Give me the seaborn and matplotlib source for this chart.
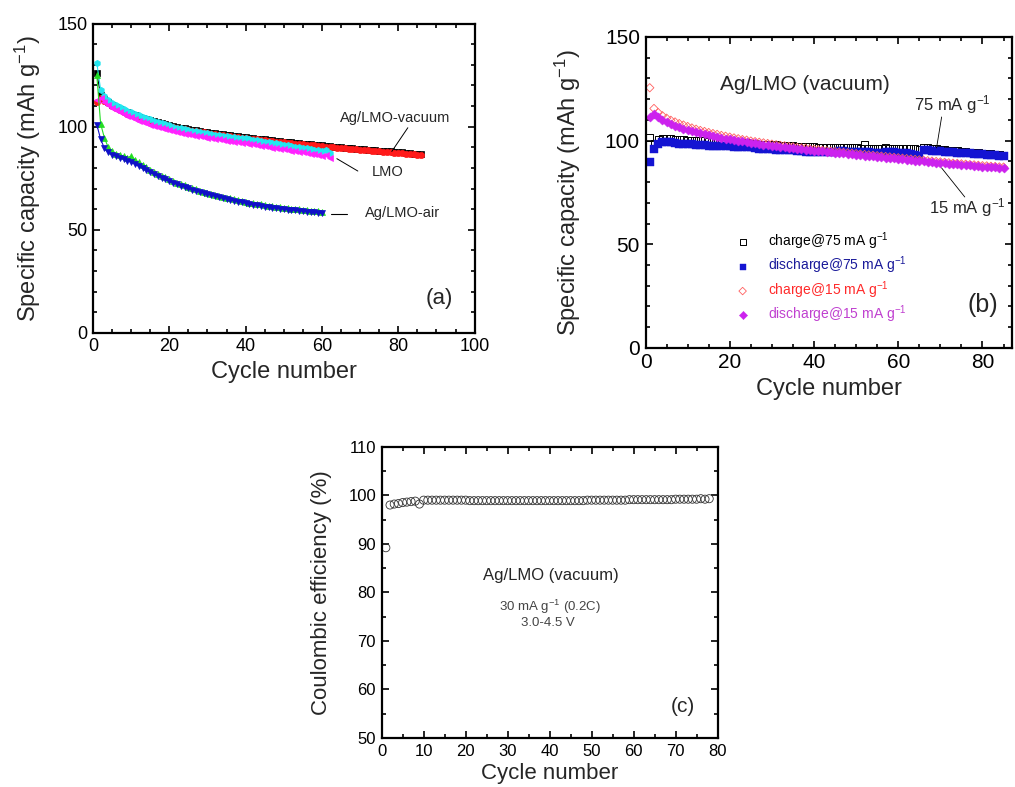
import numpy as np
import matplotlib
matplotlib.use('Agg')
import matplotlib.pyplot as plt
from matplotlib.ticker import MultipleLocator
import seaborn as sns

sns.set_style("ticks")
plt.rcParams['font.family'] = ['Liberation Sans', 'DejaVu Sans']
plt.rcParams['mathtext.fontset'] = 'custom'
plt.rcParams['mathtext.rm'] = 'Liberation Sans'
plt.rcParams['mathtext.it'] = 'Liberation Sans:italic'
plt.rcParams['axes.edgecolor'] = 'black'

# ---- panel (a): capacity of the three electrodes ----
vac_charge = [126.0, 115.5, 113.5, 112.0, 110.5, 109.5, 108.5, 107.7, 106.9, 106.2,
              105.5, 104.9, 104.3, 103.7, 103.2, 102.7, 102.2, 101.7, 101.2, 100.8,
              100.4, 100.0, 99.6, 99.2, 98.9, 98.5, 98.2, 97.9, 97.6, 97.3,
              97.0, 96.8, 96.5, 96.3, 96.0, 95.8, 95.5, 95.3, 95.1, 94.9,
              94.6, 94.4, 94.2, 94.0, 93.8, 93.6, 93.4, 93.2, 93.0, 92.8,
              92.6, 92.4, 92.2, 92.0, 91.8, 91.6, 91.5, 91.3, 91.1, 90.9,
              90.7, 90.6, 90.4, 90.2, 90.1, 89.9, 89.7, 89.6, 89.4, 89.2,
              89.1, 88.9, 88.8, 88.6, 88.4, 88.3, 88.1, 88.0, 87.8, 87.7,
              87.5, 87.3, 87.2, 87.0, 86.8, 86.6]
vac_discharge = [112.0, 114.0, 112.5, 111.3, 110.2, 109.0, 108.0, 107.2, 106.4, 105.7,
                 105.0, 104.4, 103.8, 103.2, 102.7, 102.2, 101.7, 101.2, 100.8, 100.3,
                 99.9, 99.5, 99.1, 98.8, 98.4, 98.1, 97.8, 97.5, 97.2, 96.9,
                 96.6, 96.4, 96.1, 95.9, 95.6, 95.4, 95.1, 94.9, 94.7, 94.5,
                 94.2, 94.0, 93.8, 93.6, 93.4, 93.2, 93.0, 92.8, 92.6, 92.4,
                 92.2, 92.0, 91.8, 91.6, 91.4, 91.2, 91.1, 90.9, 90.7, 90.5,
                 90.4, 90.2, 90.0, 89.9, 89.7, 89.5, 89.4, 89.2, 89.0, 88.9,
                 88.7, 88.6, 88.4, 88.2, 88.1, 87.9, 87.8, 87.6, 87.4, 87.3,
                 87.1, 87.0, 86.8, 86.6, 86.5, 86.3]
lmo_charge = [131.0, 118.0, 115.0, 113.0, 111.5, 110.4, 109.4, 108.5, 107.7, 107.0,
              106.2, 105.5, 104.8, 104.1, 103.5, 102.9, 102.3, 101.7, 101.1, 100.6,
              100.1, 99.6, 99.2, 98.8, 98.4, 98.0, 97.7, 97.4, 97.1, 96.8,
              96.5, 96.2, 95.9, 95.7, 95.4, 95.2, 94.9, 94.7, 94.5, 94.3,
              94.0, 93.7, 93.4, 93.1, 92.8, 92.5, 92.2, 91.9, 91.6, 91.3,
              91.0, 90.7, 90.4, 90.1, 89.8, 89.5, 89.2, 88.9, 88.6, 88.3,
              88.8, 87.2]
lmo_discharge = [113.0, 114.0, 112.0, 110.5, 109.2, 108.1, 107.1, 106.2, 105.3, 104.5,
                 103.7, 103.0, 102.3, 101.6, 101.0, 100.4, 99.8, 99.2, 98.7, 98.2,
                 97.8, 97.4, 97.0, 96.6, 96.3, 95.9, 95.6, 95.3, 95.0, 94.7,
                 94.4, 94.1, 93.8, 93.6, 93.3, 93.0, 92.8, 92.5, 92.3, 92.0,
                 91.7, 91.4, 91.1, 90.8, 90.5, 90.2, 89.9, 89.6, 89.3, 89.0,
                 88.7, 88.4, 88.1, 87.8, 87.5, 87.2, 86.9, 86.6, 86.3, 86.0,
                 86.4, 85.0]
air_charge = [125.0, 101.5, 94.5, 90.0, 88.0, 87.0, 86.3, 85.7, 85.0, 85.7,
              84.0, 82.7, 81.5, 80.3, 79.2, 78.2, 77.2, 76.3, 75.4, 74.5,
              73.7, 72.9, 72.2, 71.5, 70.8, 70.2, 69.6, 69.0, 68.5, 68.0,
              67.5, 67.0, 66.5, 66.0, 65.6, 65.2, 64.8, 64.4, 64.0, 63.6,
              63.2, 62.9, 62.6, 62.3, 62.0, 61.7, 61.4, 61.2, 60.9, 60.7,
              60.5, 60.3, 60.1, 59.9, 59.7, 59.5, 59.3, 59.1, 58.9, 58.7]
air_discharge = [101.0, 94.0, 89.5, 87.5, 86.5, 85.7, 85.0, 84.2, 83.5, 82.7,
                 81.8, 80.8, 79.8, 78.8, 77.9, 77.0, 76.1, 75.2, 74.4, 73.6,
                 72.8, 72.1, 71.4, 70.7, 70.1, 69.5, 68.9, 68.3, 67.8, 67.3,
                 66.8, 66.3, 65.8, 65.3, 64.9, 64.5, 64.1, 63.7, 63.3, 62.9,
                 62.5, 62.2, 61.9, 61.6, 61.3, 61.0, 60.7, 60.5, 60.2, 60.0,
                 59.8, 59.6, 59.4, 59.2, 59.0, 58.8, 58.6, 58.4, 58.2, 58.0]

# ---- panel (b): Ag/LMO (vacuum) at two rates ----
charge75 = [101.5, 98.5, 100.5, 101.0, 101.2, 101.0, 100.7, 100.5, 100.4, 100.3,
            100.2, 100.1, 100.0, 99.9, 99.8, 99.7, 99.6, 99.5, 99.4, 99.3,
            99.2, 99.1, 99.0, 98.9, 98.8, 98.5, 98.4, 98.3, 98.2, 98.1,
            98.0, 97.9, 97.8, 97.7, 97.6, 97.3, 97.2, 97.1, 97.0, 97.0,
            96.9, 96.8, 96.8, 96.7, 96.7, 96.6, 96.9, 96.6, 96.5, 96.5,
            96.4, 98.2, 96.3, 96.3, 96.2, 96.2, 96.5, 96.4, 96.3, 96.2,
            96.2, 96.1, 96.0, 96.0, 95.7, 96.6, 96.5, 96.3, 96.1, 95.9,
            95.7, 95.5, 95.3, 95.1, 94.9, 94.7, 94.5, 94.3, 94.1, 93.9,
            93.8, 93.6, 93.5, 93.3, 93.1]
discharge75 = [89.5, 96.0, 98.5, 99.3, 99.5, 99.4, 99.0, 98.6, 98.5, 98.3,
               98.2, 98.0, 97.9, 97.7, 97.6, 97.5, 97.4, 97.3, 97.3, 97.2,
               97.1, 97.0, 97.0, 96.9, 96.8, 96.2, 96.1, 96.0, 95.9, 95.8,
               95.7, 95.6, 95.5, 95.4, 95.3, 94.8, 94.8, 94.7, 94.7, 94.6,
               94.6, 94.5, 94.5, 94.4, 94.4, 94.9, 94.8, 94.7, 94.6, 94.5,
               94.4, 94.3, 94.3, 94.2, 94.1, 94.0, 94.5, 94.4, 94.3, 94.2,
               94.0, 93.8, 93.5, 93.2, 92.5, 95.4, 95.3, 95.1, 95.0, 94.8,
               94.6, 94.5, 94.3, 94.2, 94.0, 93.9, 93.8, 93.6, 93.5, 93.4,
               93.2, 93.1, 93.0, 92.8, 92.7]
charge15 = [125.5, 115.5, 113.5, 112.0, 110.8, 109.8, 109.0, 108.2, 107.5, 106.8,
            106.1, 105.5, 104.9, 104.4, 103.9, 103.4, 103.0, 102.5, 102.1, 101.7,
            101.3, 100.9, 100.5, 100.2, 99.8, 99.5, 99.2, 98.9, 98.6, 98.3,
            98.0, 97.7, 97.5, 97.2, 97.0, 96.7, 96.5, 96.3, 96.0, 95.8,
            95.6, 95.3, 95.1, 94.9, 94.7, 94.5, 94.3, 94.1, 93.9, 93.7,
            93.5, 93.3, 93.1, 92.9, 92.7, 92.5, 92.3, 92.1, 91.9, 91.7,
            91.5, 91.3, 91.1, 90.9, 90.7, 90.5, 90.3, 90.1, 89.9, 89.7,
            89.5, 89.3, 89.1, 89.0, 88.8, 88.6, 88.4, 88.3, 88.1, 87.9,
            87.8, 87.6, 87.5, 87.3, 87.2]
discharge15 = [111.5, 113.0, 111.5, 110.0, 109.0, 108.0, 107.2, 106.5, 105.8, 105.2,
               104.6, 104.0, 103.5, 103.0, 102.6, 102.2, 101.8, 101.4, 101.0, 100.6,
               100.2, 99.9, 99.6, 99.3, 99.0, 98.7, 98.4, 98.1, 97.8, 97.6,
               97.3, 97.1, 96.8, 96.6, 96.4, 96.1, 95.9, 95.7, 95.5, 95.2,
               95.0, 94.8, 94.6, 94.4, 94.2, 94.0, 93.8, 93.6, 93.4, 93.2,
               93.0, 92.8, 92.6, 92.4, 92.2, 92.0, 91.8, 91.6, 91.4, 91.2,
               91.0, 90.8, 90.6, 90.4, 90.2, 90.0, 89.8, 89.6, 89.4, 89.2,
               89.0, 88.8, 88.7, 88.5, 88.3, 88.1, 88.0, 87.8, 87.7, 87.5,
               87.4, 87.2, 87.1, 86.9, 86.8]

# ---- panel (c): coulombic efficiency ----
efficiency = [89.2, 98.0, 98.2, 98.3, 98.5, 98.6, 98.7, 98.8, 98.2, 99.0,
              99.0, 99.0, 99.0, 99.0, 99.0, 99.0, 99.0, 99.0, 99.0, 99.0,
              98.9, 98.9, 98.9, 98.9, 98.9, 98.9, 98.9, 98.9, 98.9, 98.9,
              98.9, 98.9, 98.9, 98.9, 98.9, 98.9, 98.9, 98.9, 98.9, 98.9,
              98.9, 98.9, 98.9, 98.9, 98.9, 98.9, 98.9, 98.9, 99.0, 99.0,
              99.0, 99.0, 99.0, 99.0, 99.0, 99.0, 99.0, 99.0, 99.1, 99.1,
              99.1, 99.1, 99.1, 99.1, 99.1, 99.1, 99.1, 99.1, 99.1, 99.2,
              99.2, 99.2, 99.2, 99.2, 99.2, 99.3, 99.2, 99.3]

legend_labels = ['charge@75 mA g$^{-1}$', 'discharge@75 mA g$^{-1}$',
                 'charge@15 mA g$^{-1}$', 'discharge@15 mA g$^{-1}$']


def cycles(values):
    return np.arange(1, len(values) + 1)


def box_axes(ax, xmaj, xmin, ymaj, ymin, tick_size):
    # origin style: closed box, ticks pointing inward on all four sides
    ax.xaxis.set_major_locator(MultipleLocator(xmaj))
    ax.xaxis.set_minor_locator(MultipleLocator(xmin))
    ax.yaxis.set_major_locator(MultipleLocator(ymaj))
    ax.yaxis.set_minor_locator(MultipleLocator(ymin))
    ax.tick_params(which='both', direction='in', top=True, right=True, width=1.2,
                   color='black', labelcolor='black', labelsize=tick_size, pad=4)
    ax.tick_params(which='major', length=5)
    ax.tick_params(which='minor', length=3)
    for s in ax.spines.values():
        s.set_visible(True)
        s.set_linewidth(1.6)
        s.set_color('black')


fig = plt.figure(figsize=(10.15, 7.87), dpi=100)

# (a)
ax = fig.add_axes([0.0916, 0.577, 0.376, 0.393])
series_a = [(vac_charge, 'black', 's'), (vac_discharge, '#ff1a1a', 'o'),
            (lmo_charge, '#22e6f0', 'h'), (lmo_discharge, '#ff22ff', '<'),
            (air_charge, '#22dd22', '^'), (air_discharge, '#1010c8', 'v')]
for vals, col, mk in series_a:
    sns.lineplot(x=cycles(vals), y=vals, ax=ax, color=col, marker=mk, markersize=4.5,
                 markeredgecolor=col, markeredgewidth=0.5, linewidth=0.8)
ax.set_xlim(0, 100)
ax.set_ylim(0, 150)
box_axes(ax, 20, 5, 50, 10, 13)
ax.set_xlabel('Cycle number', fontsize=17, labelpad=4)
ax.set_ylabel('Specific capacity (mAh g$^{-1}$)', fontsize=17, labelpad=10)
ax.text(79.3, 104, 'Ag/LMO-vacuum', fontsize=10.5, ha='center', va='center')
ax.plot([82.5, 78.3], [99.5, 88.0], color='black', lw=0.7)
ax.text(77.2, 78.2, 'LMO', fontsize=10.5, ha='center', va='center')
ax.plot([69.4, 63.9], [78.5, 84.5], color='black', lw=0.7)
ax.text(71.2, 58.3, 'Ag/LMO-air', fontsize=10.5, ha='left', va='center')
ax.plot([62.3, 66.5], [57.6, 57.6], color='black', lw=0.8)
ax.text(90.8, 16.5, '(a)', fontsize=16, ha='center', va='center')

# (b)
ax = fig.add_axes([0.636, 0.558, 0.361, 0.395])
sns.scatterplot(x=cycles(charge75), y=charge75, ax=ax, marker='s', s=24,
                color='black', facecolors='none', edgecolor='black', linewidth=0.7,
                label=legend_labels[0])
sns.scatterplot(x=cycles(discharge75), y=discharge75, ax=ax, marker='s', s=28,
                color='#1414d2', edgecolor='#1414d2', linewidth=0.3,
                label=legend_labels[1])
sns.scatterplot(x=cycles(charge15), y=charge15, ax=ax, marker='D', s=18,
                color='#ff6060', facecolors='none', edgecolor='#ff6060', linewidth=0.6,
                label=legend_labels[2])
sns.scatterplot(x=cycles(discharge15), y=discharge15, ax=ax, marker='D', s=22,
                color='#cc22ee', edgecolor='#cc22ee', linewidth=0.3,
                label=legend_labels[3])
ax.set_xlim(0, 87)
ax.set_ylim(0, 150)
box_axes(ax, 20, 5, 50, 10, 15)
ax.set_xlabel('Cycle number', fontsize=17, labelpad=4)
ax.set_ylabel('Specific capacity (mAh g$^{-1}$)', fontsize=17, labelpad=16)
ax.legend(loc='upper left', bbox_to_anchor=(0.246, 0.378), frameon=False, fontsize=10,
          handlelength=1.0, handletextpad=1.3, labelspacing=0.2, borderpad=0,
          borderaxespad=0, markerscale=0.9,
          labelcolor=['black', '#1a1a9a', '#ff2a2a', '#c040d0'])
ax.text(37.8, 127, 'Ag/LMO (vacuum)', fontsize=15, ha='center', va='center')
ax.text(72.9, 117.2, '75 mA g$^{-1}$', fontsize=12, ha='center', va='center')
ax.plot([70.3, 69.1], [111.4, 96.5], color='black', lw=0.6)
ax.text(76.5, 67.5, '15 mA g$^{-1}$', fontsize=12, ha='center', va='center')
ax.plot([75.8, 70.3], [72.8, 86.8], color='black', lw=0.6)
ax.text(80, 20.7, '(b)', fontsize=18, ha='center', va='center')

# (c)
ax = fig.add_axes([0.376, 0.0623, 0.331, 0.370])
sns.scatterplot(x=cycles(efficiency), y=efficiency, ax=ax, marker='o', s=34,
                color='#333333', facecolors='none', edgecolor='#333333', linewidth=0.6)
ax.set_xlim(0, 80)
ax.set_ylim(50, 110)
box_axes(ax, 10, 5, 10, 5, 12)
ax.set_xlabel('Cycle number', fontsize=16, labelpad=3)
ax.set_ylabel('Coulombic efficiency (%)', fontsize=16, labelpad=12)
ax.text(40.2, 83.4, 'Ag/LMO (vacuum)', fontsize=12, ha='center', va='center')
ax.text(40.0, 77.0, '30 mA g$^{-1}$ (0.2C)', fontsize=9.5, ha='center', va='center',
        color='#444444')
ax.text(39.6, 73.7, '3.0-4.5 V', fontsize=9.5, ha='center', va='center', color='#444444')
ax.text(71.7, 56.4, '(c)', fontsize=15, ha='center', va='center')

fig.savefig('out.png', dpi=100)
